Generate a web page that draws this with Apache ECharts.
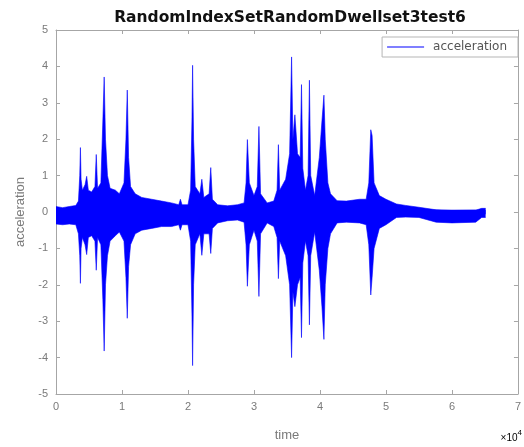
<!DOCTYPE html>
<html>
<head>
<meta charset="utf-8">
<script src="https://cdn.jsdelivr.net/npm/echarts@6/dist/echarts.min.js"></script>
<style>html,body{margin:0;padding:0;background:#fff;}#c{width:524px;height:447px;}</style>
</head>
<body>
<div id="c"></div>
<script>
// Envelope of the acceleration trace (sample index, upper, lower)
var timeSamples = [0,1000,2000,3000,3400,3600,3700,3800,4000,4400,4650,4900,5400,5900,6100,6300,6800,7100,7300,7500,7800,8200,9000,9600,10300,10600,10800,11000,11300,12000,13000,14500,16000,17500,18600,18850,19100,20000,20400,20600,20700,20850,21100,21800,22100,22400,23200,23450,23700,24500,26000,27500,28500,28800,29000,29300,30000,30500,30750,31000,32000,33000,33500,33700,33900,34800,35400,35700,35900,36200,36600,37000,37200,37400,37800,38200,38400,38600,39200,39900,40300,40600,40800,41200,41600,42600,44000,46000,47000,47400,47700,47900,48200,49000,50000,51600,53000,55000,57600,60000,63600,64500,65100];
var upperEnv = [0.15,0.12,0.15,0.18,0.3,1.0,1.77,0.9,0.6,0.75,0.98,0.6,0.55,0.7,1.58,0.65,0.8,2.5,3.71,2.0,1.0,0.65,0.6,0.5,0.8,2.0,3.35,1.5,0.7,0.5,0.4,0.35,0.3,0.25,0.2,0.35,0.2,0.2,0.6,2.5,4.03,2.0,0.7,0.5,0.9,0.4,0.5,1.22,0.35,0.2,0.17,0.2,0.25,0.8,1.99,0.8,0.45,0.7,2.35,0.5,0.25,0.3,0.6,1.85,0.6,0.9,1.6,4.26,2.0,2.67,1.6,1.5,3.5,1.2,0.6,1.0,3.62,1.0,0.45,1.5,2.5,3.21,2.0,0.8,0.5,0.31,0.3,0.35,0.35,0.8,2.26,2.1,0.8,0.45,0.35,0.22,0.18,0.13,0.06,0.04,0.05,0.1,0.1];
var lowerEnv = [-0.33,-0.35,-0.33,-0.35,-0.6,-1.2,-1.96,-1.0,-0.7,-0.9,-1.17,-0.7,-0.65,-0.8,-1.6,-0.7,-0.9,-2.4,-3.82,-2.0,-1.2,-0.8,-0.65,-0.55,-0.8,-1.8,-2.92,-1.5,-0.9,-0.6,-0.5,-0.45,-0.4,-0.4,-0.35,-0.5,-0.35,-0.35,-0.8,-2.8,-4.22,-2.0,-0.9,-0.6,-1.19,-0.6,-0.6,-1.14,-0.45,-0.3,-0.24,-0.22,-0.28,-0.9,-2.04,-0.9,-0.5,-0.8,-2.32,-0.6,-0.3,-0.4,-0.7,-1.83,-0.8,-1.2,-2.0,-4.0,-2.2,-2.6,-2.0,-1.8,-3.45,-1.4,-0.8,-1.2,-3.1,-1.2,-0.55,-1.6,-2.6,-3.5,-2.0,-1.0,-0.6,-0.3,-0.28,-0.3,-0.35,-0.9,-2.28,-1.8,-1.0,-0.45,-0.35,-0.15,-0.14,-0.15,-0.28,-0.3,-0.28,-0.15,-0.15];
var xTickLabels = ['0','1','2','3','4','5','6','7'];
var yTickLabels = ['-5','-4','-3','-2','-1','0','1','2','3','4','5'];

var upperData = timeSamples.map(function(t,i){return [t, upperEnv[i]];});
var lowerData = timeSamples.map(function(t,i){return [t, lowerEnv[i]];});

var axisGray = '#a6a6a6';
var labelGray = '#7a7a7a';
var fontFam = 'Liberation Sans, Arial, sans-serif';

var chart = echarts.init(document.getElementById('c'), null, {renderer:'canvas'});
var baseX = {
  type:'value', min:0, max:70000, interval:10000,
  axisLine:{onZero:false, lineStyle:{color:axisGray, width:1}},
  axisTick:{inside:true, length:4, lineStyle:{color:axisGray}},
  splitLine:{show:false}
};
var baseY = {
  type:'value', min:-5, max:5, interval:1,
  axisLine:{onZero:false, lineStyle:{color:axisGray, width:1}},
  axisTick:{inside:true, length:4, lineStyle:{color:axisGray}},
  splitLine:{show:false}
};
chart.setOption({
  animation:false,
  title:{
    text:'RandomIndexSetRandomDwellset3test6',
    left:285, top:5, textAlign:'center',
    textStyle:{fontFamily:'DejaVu Sans, sans-serif', fontWeight:'bold', fontSize:15.5, color:'#111'}
  },
  legend:{
    data:['acceleration'], right:6, top:37,
    icon:'rect', itemWidth:37, itemHeight:1, itemGap:6,
    itemStyle:{color:'#0000ff'},
    backgroundColor:'#fff', borderColor:'#b5b5b5', borderWidth:1, padding:[4,11,4,5],
    textStyle:{fontFamily:'DejaVu Sans, sans-serif', fontSize:12, color:'#555', padding:[0,0,0,4]}
  },
  grid:{left:56, right:2, top:30, bottom:50},
  xAxis:[
    Object.assign({}, baseX, {
      position:'bottom',
      name:'time', nameLocation:'middle', nameGap:35,
      nameTextStyle:{fontFamily:fontFam, fontSize:13, color:labelGray},
      axisLabel:{fontFamily:fontFam, fontSize:11, color:labelGray, margin:7,
        formatter:function(v){return xTickLabels[Math.round(v/10000)];}}
    }),
    Object.assign({}, baseX, {position:'top', axisLabel:{show:false}})
  ],
  yAxis:[
    Object.assign({}, baseY, {
      position:'left',
      name:'acceleration', nameLocation:'middle', nameGap:27, nameRotate:90,
      nameTextStyle:{fontFamily:fontFam, fontSize:13, color:labelGray},
      axisLabel:{fontFamily:fontFam, fontSize:11, color:labelGray, margin:8,
        formatter:function(v){return yTickLabels[Math.round(v)+5];}}
    }),
    Object.assign({}, baseY, {position:'right', axisLabel:{show:false}})
  ],
  graphic:[{
    type:'text', right:2, top:429,
    style:{
      text:'{a|\u00d710}{b|4}',
      rich:{
        a:{fontFamily:fontFam, fontSize:10, color:labelGray, verticalAlign:'bottom'},
        b:{fontFamily:fontFam, fontSize:8, color:labelGray, verticalAlign:'top', padding:[0,0,6,0]}
      }
    }
  }],
  series:[
    {
      name:'acceleration', type:'line', data:upperData, showSymbol:false, symbol:'none',
      color:'#0000ff',
      lineStyle:{color:'#0000ff', width:0.6},
      areaStyle:{color:'#0000ff', opacity:1, origin:-0.06}
    },
    {
      name:'acceleration', type:'line', data:lowerData, showSymbol:false, symbol:'none',
      color:'#0000ff',
      lineStyle:{color:'#0000ff', width:0.6},
      areaStyle:{color:'#0000ff', opacity:1, origin:0.06}
    }
  ]
});
</script>
</body>
</html>
